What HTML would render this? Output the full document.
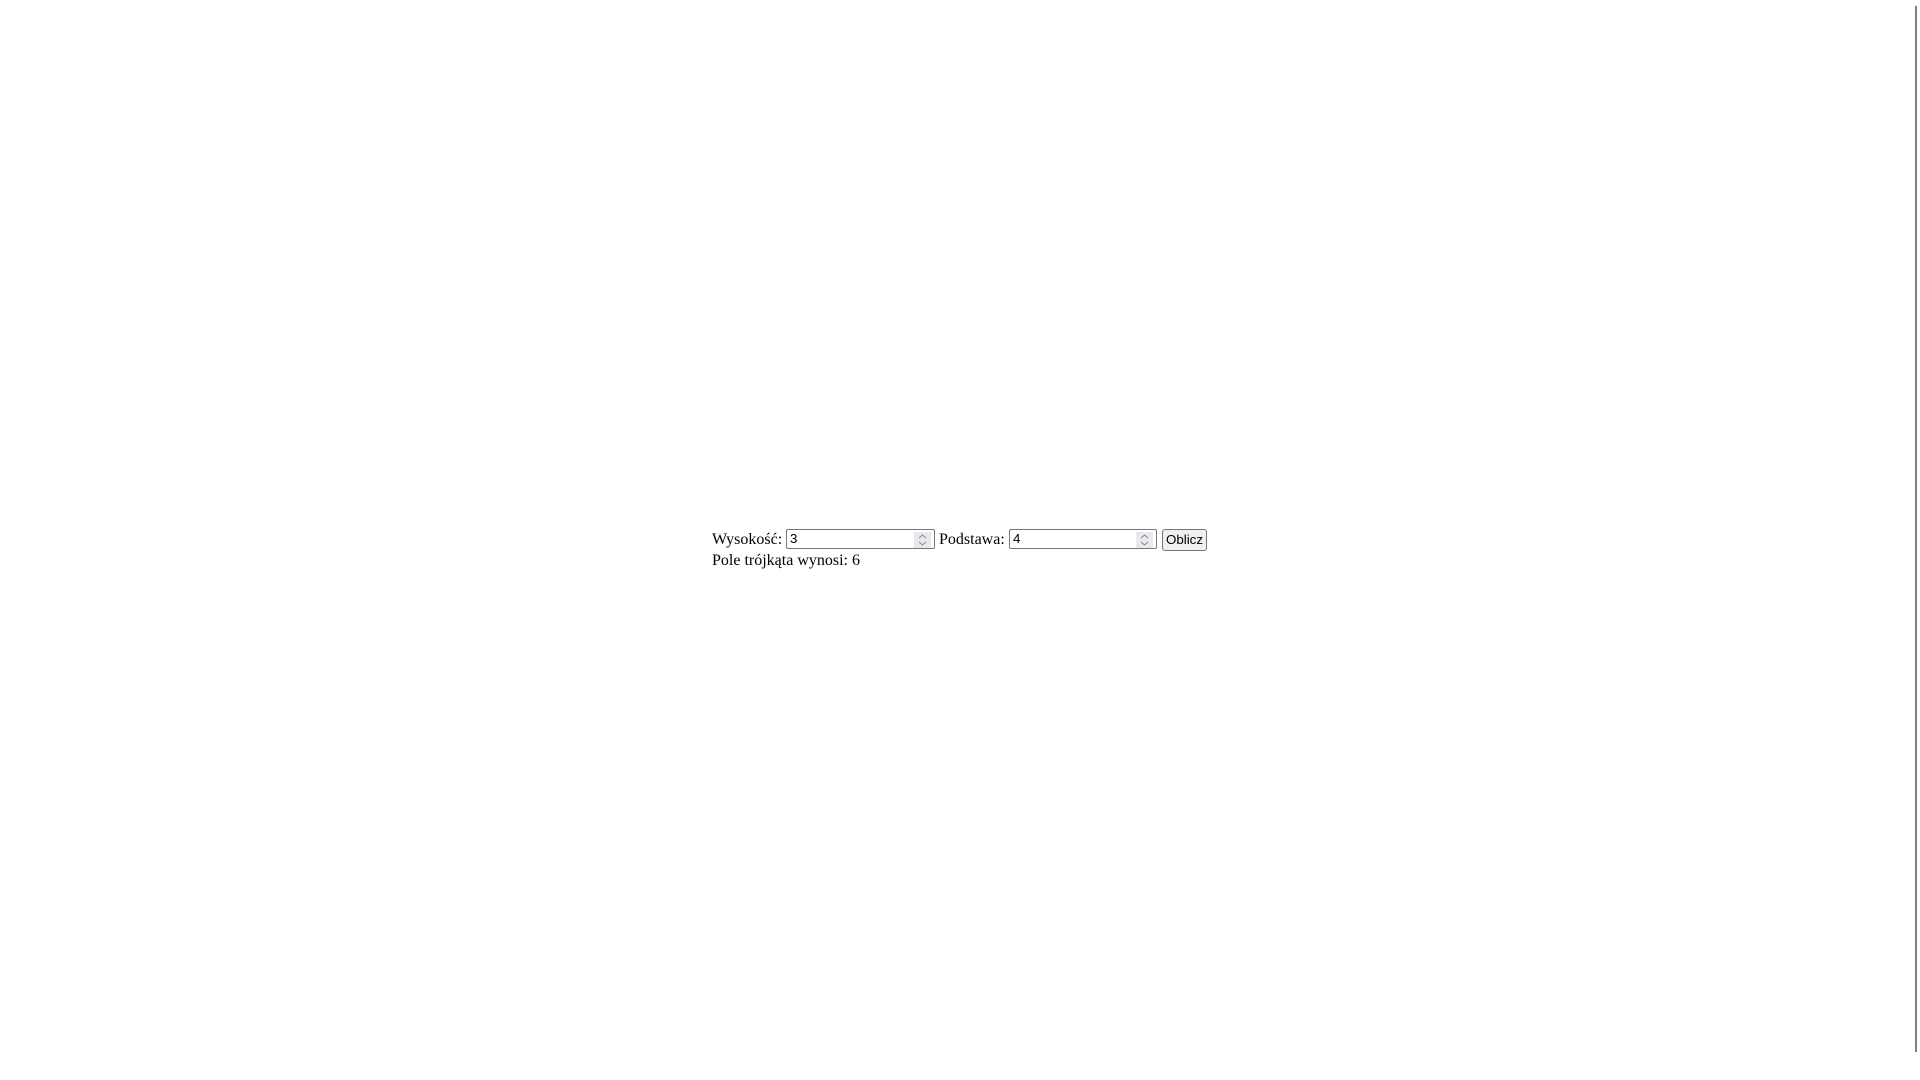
<!DOCTYPE html>
<html><head><meta charset="utf-8"><style>
html,body{margin:0;padding:0;width:1920px;height:1080px;background:#fff;overflow:hidden;position:relative;font-family:"Liberation Serif",serif;font-size:16px;color:#000}
.t{position:absolute;white-space:nowrap;line-height:18px}
.in{position:absolute;box-sizing:border-box;border:1px solid #767676;border-radius:2px;background:#fff;font-family:"Liberation Sans",sans-serif;font-size:13.33px;line-height:18px;padding-left:3px}
.sp{position:absolute;right:3px;top:2px;width:17px;height:16px;background:#e9e9ed}
.sp svg{display:block}
.btn{position:absolute;box-sizing:border-box;border:1px solid #767676;border-radius:3px;background:#efefef;font-family:"Liberation Sans",sans-serif;font-size:13.33px;text-align:center;line-height:20px}
.bar{position:absolute;left:1915px;top:6px;width:2px;height:1046px;background:#808080}
</style></head><body>
<div class="t" style="left:712px;top:531px">Wysokość:</div>
<div class="in" style="left:786px;top:529px;width:149px;height:20px">3<div class="sp"><svg width="17" height="16"><path d="M5 6 L8.5 3 L12 6 M5 10 L8.5 13 L12 10" fill="none" stroke="#888" stroke-width="1"/></svg></div></div>
<div class="t" style="left:939px;top:531px">Podstawa:</div>
<div class="in" style="left:1009px;top:529px;width:148px;height:20px">4<div class="sp"><svg width="17" height="16"><path d="M5 6 L8.5 3 L12 6 M5 10 L8.5 13 L12 10" fill="none" stroke="#888" stroke-width="1"/></svg></div></div>
<div class="btn" style="left:1162px;top:529px;width:45px;height:22px">Oblicz</div>
<div class="t" style="left:712px;top:552px">Pole trójkąta wynosi: 6</div>
<div class="bar"></div>
</body></html>
